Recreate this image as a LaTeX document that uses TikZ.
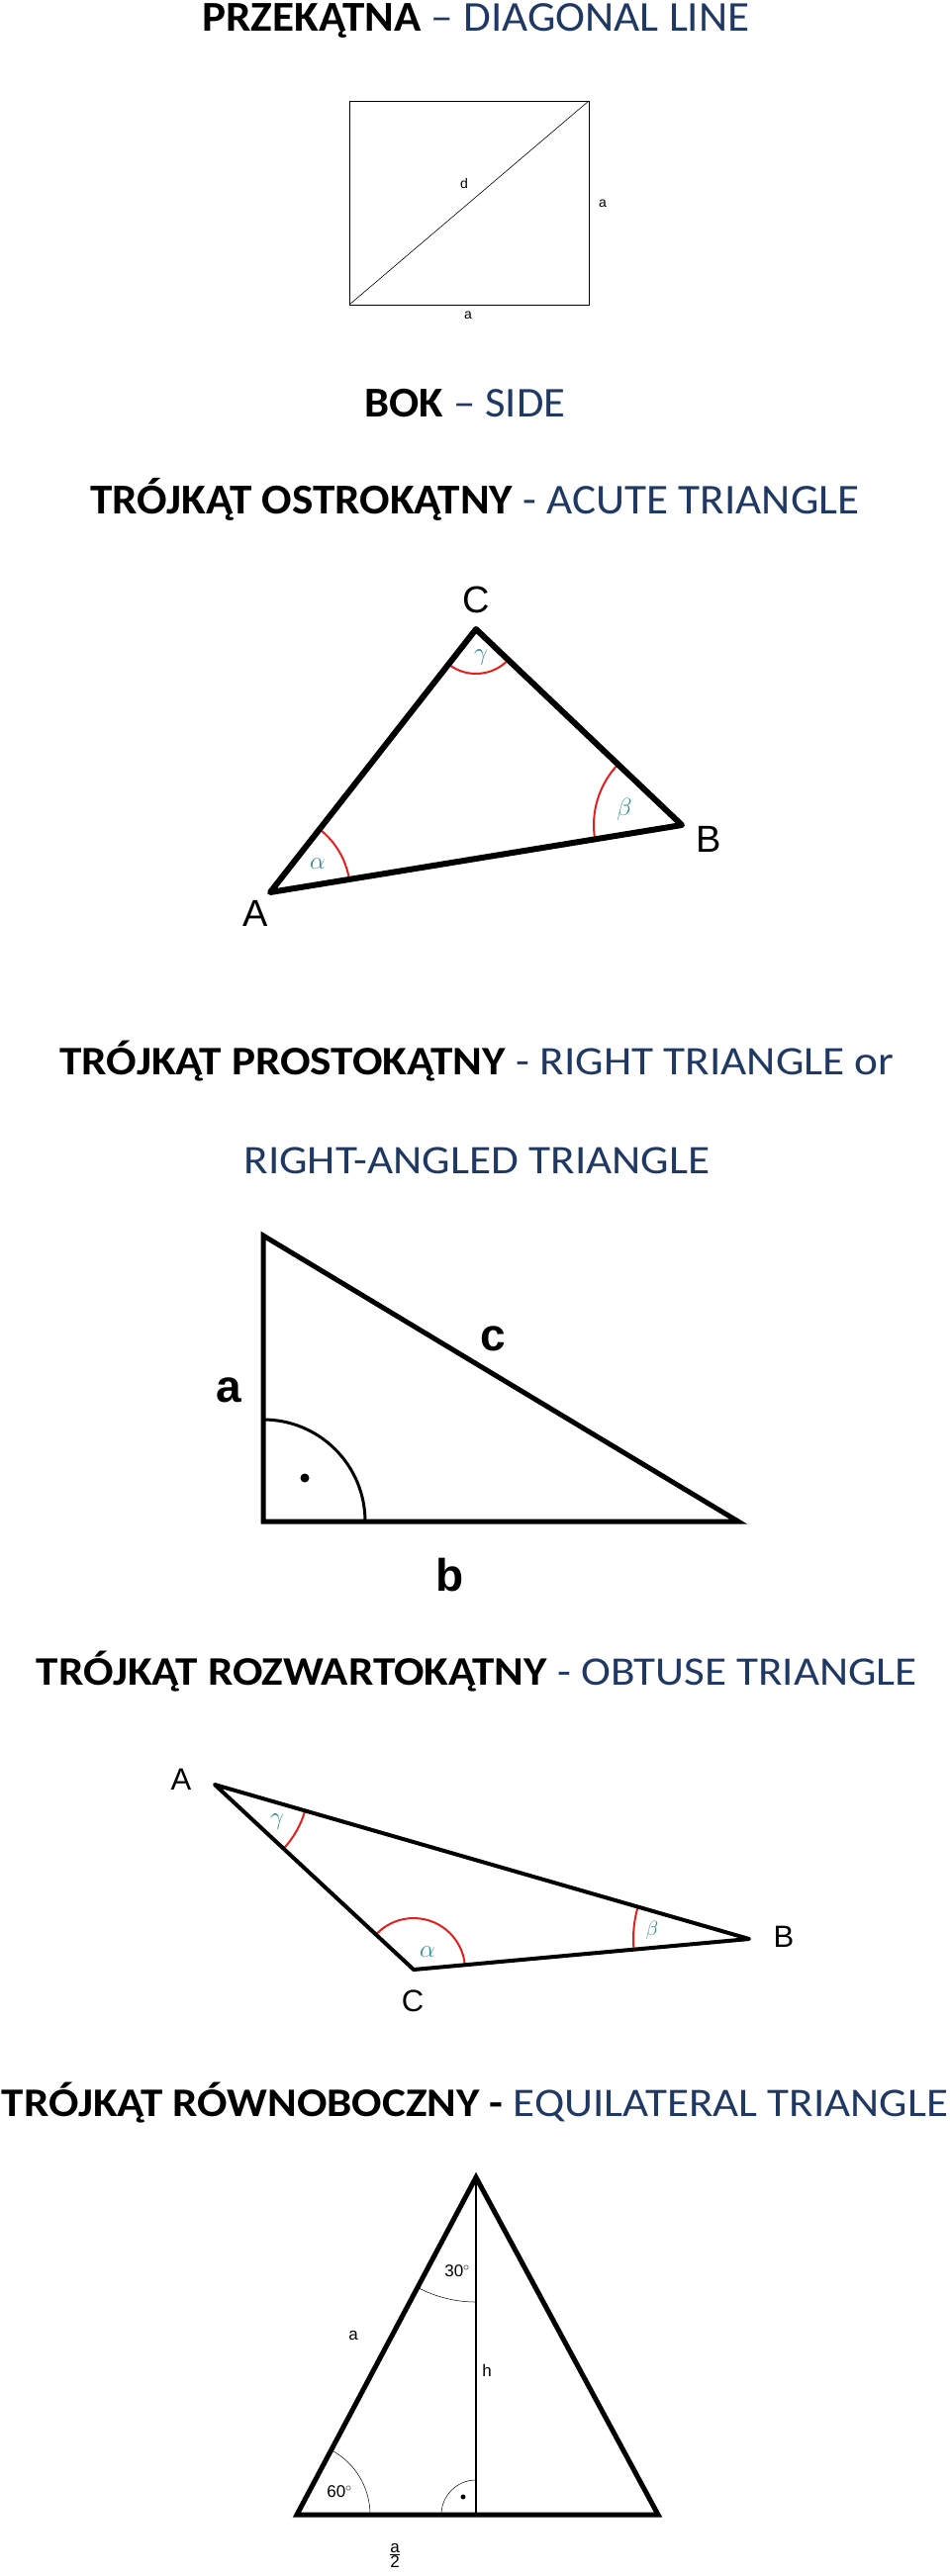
\documentclass[tikz,border=0pt]{standalone}
\usepackage{fontspec}
\usepackage{graphicx}
\setmainfont{Carlito}
\newfontfamily\lab{Liberation Sans}
\definecolor{tblue}{RGB}{31,56,100}
\definecolor{teal2}{RGB}{40,140,150}
\definecolor{rd}{RGB}{230,30,30}
\begin{document}
\begin{tikzpicture}[x=1pt,y=-1pt,
 ttl/.style={anchor=base,inner sep=0pt},
 lbl/.style={font=\lab\fontsize{14}{16}\selectfont,inner sep=0pt},
 lbm/.style={font=\lab\fontsize{17}{19}\selectfont,inner sep=0pt},
 big/.style={font=\lab\fontsize{38}{40}\selectfont,inner sep=0pt},
 mid/.style={font=\lab\fontsize{31}{33}\selectfont,inner sep=0pt},
 bigb/.style={font=\lab\bfseries\fontsize{46}{48}\selectfont,inner sep=0pt},
 grk/.style={text=teal2,font=\fontsize{24}{26}\selectfont,inner sep=0pt},
 thick1/.style={line width=6pt,line join=round},
 ang/.style={draw=rd,line width=2pt}]
\useasboundingbox (0,0) rectangle (960,2604);
\newcommand\ttlA[3]{\resizebox{#1pt}{\height}{\fontsize{#2}{#2}\selectfont #3}}
% titles
\node[ttl] (t1) at (481,32) {\ttlA{553}{43}{\textbf{PRZEKĄTNA} \textcolor{tblue}{– DIAGONAL LINE}}};
\node[ttl] (t2) at (470,421) {\ttlA{203}{43}{\textbf{BOK} \textcolor{tblue}{– SIDE}}};
\node[ttl] (t3) at (480,519) {\ttlA{777}{43}{\textbf{TRÓJKĄT OSTROKĄTNY} \textcolor{tblue}{- ACUTE TRIANGLE}}};
\node[ttl] (t4) at (482,1086) {\ttlA{843}{41}{\textbf{TRÓJKĄT PROSTOKĄTNY} \textcolor{tblue}{- RIGHT TRIANGLE or}}};
\node[ttl] (t5) at (482,1186) {\ttlA{471}{41}{\textcolor{tblue}{RIGHT-ANGLED TRIANGLE}}};
\node[ttl] (t6) at (482,1703) {\ttlA{890}{41}{\textbf{TRÓJKĄT ROZWARTOKĄTNY} \textcolor{tblue}{- OBTUSE TRIANGLE}}};
\node[ttl] (t7) at (480,2139) {\ttlA{956}{41}{\textbf{TRÓJKĄT RÓWNOBOCZNY -} \textcolor{tblue}{EQUILATERAL TRIANGLE}}};
% square
\coordinate (s1) at (353,308); \coordinate (s2) at (595,102);
\draw[line width=0.8pt] (s1) rectangle (s2);
\draw[line width=0.6pt] (s1) -- (s2);
\node[lbl] (sd) at (469,185) {d};
\node[lbl] (sa) at (609,206) {a};
\node[lbl] (sb) at (473,319) {a};
% acute
\coordinate (A) at (273,902); \coordinate (B) at (689,834); \coordinate (C) at (481,636);
\draw[ang] ([shift={(9.3:81pt)}]A) arc[start angle=9.3,end angle=52,radius=81pt];
\draw[ang] ([shift={(232:45pt)}]C) arc[start angle=232,end angle=316.4,radius=45pt];
\draw[ang] ([shift={(136.4:89pt)}]B) arc[start angle=136.4,end angle=189.3,radius=89pt];
\draw[thick1] (A) -- (B) -- (C) -- cycle;
\node[big] (la) at (258,923) {A};
\node[big] (lb) at (716,848) {B};
\node[big] (lc) at (481,606) {C};
\node[grk] (ga) at (321,873) {$\alpha$};
\node[grk] (gb) at (631,818) {$\beta$};
\node[grk] (gc) at (486,665) {$\gamma$};
% right triangle
\coordinate (R1) at (266,1249); \coordinate (R2) at (266,1538); \coordinate (R3) at (746,1538);
\draw[line width=5pt,line join=miter] (R1) -- (R2) -- (R3) -- cycle;
\draw[line width=3pt] (266,1435) arc[start angle=90,end angle=0,radius=103pt];
\fill (308,1494) circle (4.5pt);
\node[bigb] (ra) at (231,1405) {a};
\node[bigb] (rc) at (498,1353) {c};
\node[bigb] (rb) at (455,1592) {b};
% obtuse
\coordinate (OA) at (217,1804); \coordinate (OB) at (757,1960); \coordinate (OC) at (418,1991);
\draw[ang] ([shift={(-42.9:95pt)}]OA) arc[start angle=-42.9,end angle=-16.1,radius=95pt];
\draw[ang] ([shift={(5.2:52pt)}]OC) arc[start angle=5.2,end angle=137,radius=52pt];
\draw[ang] ([shift={(163.9:117pt)}]OB) arc[start angle=163.9,end angle=185.2,radius=117pt];
\draw[line width=4pt,line join=round] (OA) -- (OB) -- (OC) -- cycle;
\node[mid] (oa) at (183,1799) {A};
\node[mid] (ob) at (792,1958) {B};
\node[mid] (oc) at (417,2023) {C};
\node[grk] (oga) at (432,1973) {$\alpha$};
\node[grk,font=\fontsize{20}{22}\selectfont] (ogb) at (659,1951) {$\beta$};
\node[grk] (ogc) at (280,1842) {$\gamma$};
% equilateral
\coordinate (T) at (481,2201); \coordinate (L) at (300,2542); \coordinate (F) at (481,2542); \coordinate (Rr) at (665,2542);
\draw[line width=0.5pt] ([shift={(0:74pt)}]L) arc[start angle=0,end angle=62,radius=74pt];
\draw[line width=0.5pt] ([shift={(242:126pt)}]T) arc[start angle=242,end angle=270,radius=126pt];
\draw[line width=0.5pt] ([shift={(90:35pt)}]F) arc[start angle=90,end angle=180,radius=35pt];
\draw[line width=5pt,line join=miter] (L) -- (T) -- (Rr) -- cycle;
\draw[line width=2.5pt] (T) -- (F);
\fill (468,2524) circle (2.5pt);
\node[lbm] (e30) at (462,2296) {30$^\circ$};
\node[lbm] (e60) at (343,2519) {60$^\circ$};
\node[lbm] (ea) at (357,2361) {a};
\node[lbm] (eh) at (492,2396) {h};
\node[lbm] (ea2) at (399,2583) {$\frac{\mbox{a}}{\mbox{2}}$};
\end{tikzpicture}
\end{document}
